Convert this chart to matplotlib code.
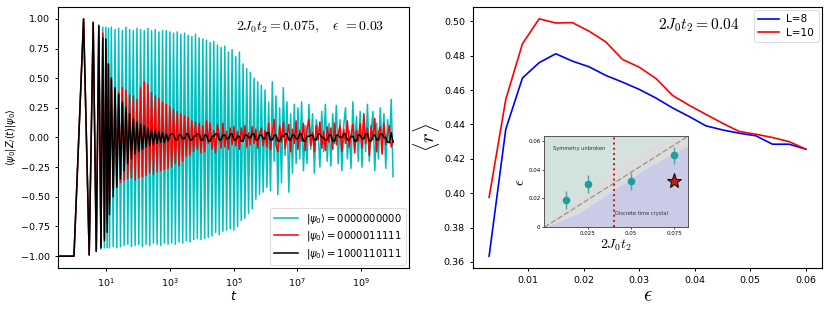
import numpy as np
import matplotlib
matplotlib.use("Agg")
import matplotlib.pyplot as plt
from matplotlib.ticker import FixedLocator, NullLocator

# ---------------- data: left panel ----------------
t_early = [0, 1, 2, 3, 4, 5, 6, 7, 8, 9, 10, 11, 12]
n_late = 156
t_late = np.logspace(np.log10(13), 10, n_late)

cyan_early = [-1.0, -1.0, 1.0, -0.99, 0.97, -0.96, 0.95, -0.94, 0.93, -0.93, 0.93, -0.93, 0.92]
cyan_late = [
    -0.93, 0.93, -0.92, 0.91, -0.93, 0.92, -0.92, 0.90, -0.91, 0.93, -0.90, 0.91, -0.92, 0.90, -0.91, 0.92,
    -0.90, 0.91, -0.92, 0.90, -0.90, 0.92, -0.91, 0.90, -0.89, 0.91, -0.90, 0.89, -0.91, 0.90, -0.89, 0.90, -0.90, 0.89,
    -0.89, 0.88, -0.90, 0.89, -0.88, 0.87, -0.89, 0.88, -0.87, 0.86, -0.88, 0.85, -0.86, 0.87, -0.85, 0.84, -0.86,
    0.83, -0.85, 0.82, -0.84, 0.80, -0.83, 0.81, -0.80, 0.78, -0.82, 0.76, -0.79, 0.77, -0.78, 0.72, -0.77, 0.74,
    -0.78, 0.68, -0.75, 0.72, -0.70, 0.62, -0.68, 0.58, -0.64, 0.55, -0.60, 0.50, -0.52, 0.47, -0.48, 0.44, -0.46, 0.40,
    -0.42, 0.30, -0.45, 0.47, -0.20, 0.35, -0.48, 0.25, -0.38, 0.42, -0.15, 0.30, -0.46, 0.20, -0.30, 0.28, -0.22,
    0.25, -0.18, 0.30, -0.28, 0.10, -0.22, 0.28, -0.10, 0.20, -0.30, 0.15, 0.05, -0.25, 0.22, -0.12, 0.28, -0.20, 0.12,
    -0.24, 0.20, -0.05, 0.27, -0.22, 0.15, -0.28, 0.10, 0.25, -0.18, 0.06, -0.26, 0.30, -0.10, 0.18, -0.20, 0.22,
    -0.25, 0.18, -0.12, 0.28, -0.20, 0.05, 0.22, -0.28, 0.12, -0.18, 0.25, -0.10, 0.20, -0.26, 0.15, -0.05, 0.32, -0.33,
]

red_early = [-1.0, -1.0, 1.0, -0.99, 0.97, -0.96, 0.94, -0.92, 0.88, -0.85, 0.75, -0.70, 0.62]
red_late = [
    -0.55, 0.50, -0.42, 0.40, -0.40, 0.38, -0.38, 0.42, -0.36, 0.40, -0.35, 0.36, -0.34, 0.35, -0.36, 0.32,
    -0.34, 0.42, -0.33, 0.47, -0.32, 0.45, -0.30, 0.38, -0.31, 0.35, -0.29, 0.33, -0.28, 0.30, -0.27, 0.28, -0.26, 0.26,
    -0.25, 0.24, -0.22, 0.22, -0.24, 0.20, -0.20, 0.18, -0.16, 0.17, -0.15, 0.14, -0.12, 0.13, -0.10, 0.12, -0.13,
    0.10, -0.12, 0.14, -0.05, 0.12, -0.10, 0.06, -0.13, 0.11, 0.02, -0.09, 0.12, -0.08, 0.05, -0.10, 0.08, -0.06,
    0.09, -0.07, 0.05, -0.10, 0.08, -0.03, 0.10, -0.08, 0.04, -0.06, 0.09, -0.05, 0.07, -0.09, 0.03, 0.08, -0.07, 0.06,
    -0.08, 0.12, -0.10, 0.05, 0.15, -0.06, -0.12, 0.10, -0.04, 0.13, -0.09, 0.02, 0.11, -0.12, 0.07, -0.05, 0.14,
    -0.10, 0.06, -0.03, 0.12, -0.11, 0.08, 0.15, -0.07, 0.04, -0.12, 0.10, -0.02, 0.13, -0.09, 0.05, -0.11, 0.09, -0.04,
    0.08, -0.10, 0.12, -0.06, 0.03, 0.10, -0.12, 0.07, -0.05, 0.14, -0.08, 0.02, 0.11, -0.13, 0.06, -0.03, 0.12,
    -0.09, 0.20, -0.05, 0.08, -0.15, 0.10, -0.02, 0.16, -0.12, 0.04, 0.09, -0.14, 0.12, -0.06, 0.03, 0.10, -0.08, -0.03,
]

black_early = [-1.0, -1.0, 1.0, -0.99, 0.97, -0.96, 0.94, -0.93, 0.84, -0.87, 0.83, -0.80, 0.62]
black_late = [
    -0.65, 0.50, -0.50, 0.42, -0.42, 0.36, -0.35, 0.30, -0.28, 0.25, -0.22, 0.20, -0.18, 0.16, -0.14, 0.13,
    -0.12, 0.11, -0.10, 0.10, -0.08, 0.08, -0.07, 0.07, -0.06, 0.06, -0.05, 0.05, -0.04, 0.04, -0.04, 0.03, -0.03, 0.02,
    0.03, 0.03, -0.02, -0.02, 0.02, 0.02, -0.01, -0.01, 0.03, 0.03, -0.02, -0.02, 0.01, 0.01, 0.03, 0.03, -0.02,
    -0.02, 0.02, 0.02, -0.03, -0.03, 0.01, 0.01, 0.03, 0.03, -0.02, -0.02, 0.02, 0.02, -0.01, -0.01, 0.03, 0.03,
    -0.02, -0.02, 0.01, 0.01, -0.03, -0.03, 0.02, 0.02, 0.00, 0.00, 0.03, 0.03, -0.02, -0.02, 0.02, 0.02, -0.01, -0.01,
    0.04, 0.04, -0.02, -0.02, 0.02, 0.02, -0.03, -0.03, 0.01, 0.01, 0.03, 0.03, -0.02, -0.02, 0.02, 0.02, -0.01,
    -0.01, 0.03, 0.03, -0.03, -0.03, 0.01, 0.01, 0.02, 0.02, -0.02, -0.02, 0.03, 0.03, 0.00, 0.00, -0.02, -0.02, 0.02,
    0.02, -0.03, -0.03, 0.02, 0.02, 0.00, 0.00, 0.03, 0.03, -0.02, -0.02, 0.01, 0.01, -0.03, -0.03, 0.02, 0.02,
    -0.01, -0.01, 0.03, 0.03, -0.03, -0.03, 0.02, 0.02, -0.02, -0.02, 0.03, 0.03, 0.00, 0.00, -0.04, -0.04, 0.04, -0.04,
]

legend_left = [r'$|\psi_0\rangle = 0000000000$',
               r'$|\psi_0\rangle = 0000011111$',
               r'$|\psi_0\rangle = 1000110111$']

# ---------------- data: right panel ----------------
eps = [0.003, 0.006, 0.009, 0.012, 0.015, 0.018, 0.021, 0.024, 0.027, 0.030,
       0.033, 0.036, 0.039, 0.042, 0.045, 0.048, 0.051, 0.054, 0.057, 0.060]
r_L8 = [0.3634, 0.4372, 0.4670, 0.4759, 0.4811, 0.4768, 0.4735, 0.4685, 0.4646, 0.4604,
        0.4554, 0.4496, 0.4446, 0.4392, 0.4368, 0.4349, 0.4334, 0.4285, 0.4285, 0.4256]
r_L10 = [0.3976, 0.4546, 0.4869, 0.5014, 0.4990, 0.4992, 0.4942, 0.4880, 0.4778, 0.4733,
         0.4668, 0.4569, 0.4511, 0.4459, 0.4407, 0.4359, 0.4343, 0.4324, 0.4300, 0.4256]

# inset (phase diagram)
pd_x = [0.0125, 0.025, 0.05, 0.075]
pd_y = [0.019, 0.030, 0.032, 0.050]
pd_err = [0.006, 0.006, 0.006, 0.006]
star_x, star_y = 0.075, 0.032
band_x = [0.0, 0.02, 0.04, 0.06, 0.083]
band_hi = [0.002, 0.023, 0.041, 0.056, 0.068]
band_lo = [0.0, 0.010, 0.026, 0.042, 0.057]
diag_x = [0.0, 0.083]
diag_y = [0.0, 0.0634]
t2_line = 0.04

# ---------------- figure ----------------
plt.rcParams['mathtext.fontset'] = 'dejavusans'
fig = plt.figure(figsize=(8.3, 3.12), dpi=100)

ax1 = fig.add_axes([0.0699, 0.141, 0.4229, 0.8366])
t_all = list(t_early) + list(t_late)
for vals_e, vals_l, col, lab in [(cyan_early, cyan_late, '#00bfbf', legend_left[0]),
                                 (red_early, red_late, '#ff0000', legend_left[1]),
                                 (black_early, black_late, '#000000', legend_left[2])]:
    if len(vals_l) != n_late:
        raise ValueError("length mismatch %d" % len(vals_l))
    ax1.plot(t_all, list(vals_e) + list(vals_l), color=col, lw=1.1, label=lab)
ax1.set_xscale('log')
ax1.set_xlim(10 ** -0.5, 10 ** 10.5)
ax1.set_ylim(-1.1, 1.1)
ax1.xaxis.set_major_locator(FixedLocator([1e1, 1e3, 1e5, 1e7, 1e9]))
ax1.xaxis.set_minor_locator(NullLocator())
ax1.set_yticks([-1.0, -0.75, -0.5, -0.25, 0.0, 0.25, 0.5, 0.75, 1.0])
ax1.tick_params(labelsize=6.8, length=2.5, width=0.7)
ax1.set_xlabel(r'$t$', fontsize=9, labelpad=1)
ax1.set_ylabel(r'$\langle\psi_0|Z_i(t)|\psi_0\rangle$', fontsize=7, labelpad=2)
ax1.text(0.507, 0.925, r'$2J_0t_2 = 0.075,\ \ \ \epsilon\ = 0.03$', transform=ax1.transAxes,
         fontsize=10, ha='left', va='center', math_fontfamily='cm')
leg = ax1.legend(loc='lower right', fontsize=7.2, handlelength=2.4, borderaxespad=0.35,
                 labelspacing=0.35, handletextpad=0.8, borderpad=0.4)
leg.get_frame().set_linewidth(0.6)

# right panel
ax2 = fig.add_axes([0.5702, 0.141, 0.4198, 0.8366])
ax2.plot(eps, r_L8, color='#0000ff', lw=1.2, label='L=8')
ax2.plot(eps, r_L10, color='#ff0000', lw=1.2, label='L=10')
ax2.set_yticks([0.36, 0.38, 0.40, 0.42, 0.44, 0.46, 0.48, 0.50])
ax2.set_xticks([0.01, 0.02, 0.03, 0.04, 0.05, 0.06])
ax2.set_xticklabels(['0.01', '0.02', '0.03', '0.04', '0.05', '0.06'])
ax2.tick_params(labelsize=6.8, length=2.5, width=0.7)
ax2.set_xlabel(r'$\epsilon$', fontsize=15, labelpad=0, math_fontfamily='cm')
ax2.set_ylabel(r'$\langle r\rangle$', fontsize=15, labelpad=1, math_fontfamily='cm')
ax2.text(0.53, 0.93, r'$2J_0t_2 = 0.04$', transform=ax2.transAxes,
         fontsize=11.2, ha='left', va='center', math_fontfamily='cm')
leg2 = ax2.legend(loc='upper right', fontsize=7.6, handlelength=2.0, borderaxespad=0.3,
                  labelspacing=0.3, handletextpad=0.7, borderpad=0.4)
leg2.get_frame().set_linewidth(0.6)

# inset
axin = fig.add_axes([0.6558, 0.2715, 0.1735, 0.2926])
xmax, ymax = 0.083, 0.0634
axin.fill_between(band_x, band_hi, ymax + 0.01, color='#d2e2df', lw=0)
axin.fill_between(band_x, band_lo, band_hi, color='#dcdcdc', lw=0)
axin.fill_between(band_x, -0.01, band_lo, color='#c9cbe7', lw=0)
axin.plot(diag_x, diag_y, ls=(0, (5, 2)), color='#8a8a8a', lw=0.8)
axin.axvline(t2_line, color='#e01010', ls=':', lw=1.4)
axin.errorbar(pd_x, pd_y, yerr=pd_err, fmt='o', color='#1f9e9b', ecolor='#4aa7a6',
              ms=4.5, elinewidth=1.0, capsize=0, zorder=5)
axin.plot([star_x], [star_y], marker='*', ms=11, color='#c0201a', mec='black', mew=0.7, zorder=6)
axin.text(0.0048, 0.055, 'Symmetry unbroken', fontsize=3.7, color='#333333', va='center')
axin.text(0.0405, 0.0095, 'Discrete time crystal', fontsize=3.7, color='#333333', va='center')
axin.set_xlim(0, xmax)
axin.set_ylim(0, ymax)
axin.set_xticks([0.025, 0.05, 0.075])
axin.set_xticklabels(['0.025', '0.05', '0.075'])
axin.set_yticks([0, 0.02, 0.04, 0.06])
axin.set_yticklabels(['0', '0.02', '0.04', '0.06'])
axin.tick_params(labelsize=4, length=1.2, width=0.5, pad=1.5)
for s in axin.spines.values():
    s.set_color('#555555')
    s.set_linewidth(0.7)
axin.set_xlabel(r'$2J_0t_2$', fontsize=10, labelpad=1, math_fontfamily='cm')
axin.set_ylabel(r'$\epsilon$', fontsize=11, labelpad=1, math_fontfamily='cm')

fig.savefig('out.png', dpi=100)
